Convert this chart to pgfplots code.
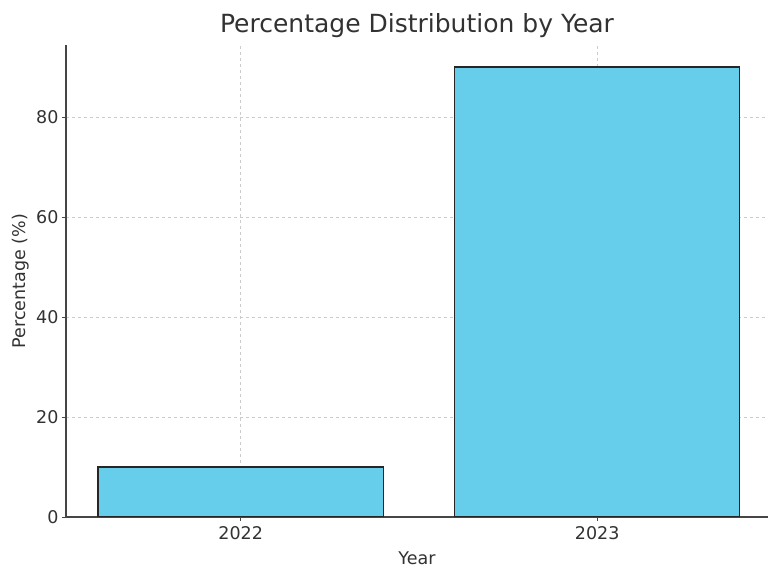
\documentclass[border=0pt]{standalone}
\usepackage{pgfplots}
\pgfplotsset{compat=1.18}
\usepackage{fontspec}
\setmainfont{DejaVu Sans}
\definecolor{barc}{RGB}{102,205,234}
\definecolor{spine}{RGB}{70,70,70}
\definecolor{txt}{RGB}{50,50,50}
\begin{document}
\begin{tikzpicture}[x=1pt,y=1pt]
\begin{axis}[
  at={(0,0)}, anchor=south west,
  scale only axis, width=702pt, height=472pt,
  xmin=-0.49, xmax=1.479, ymin=0, ymax=94.4,
  axis x line=bottom, axis y line=left,
  axis line style={-, spine, line width=1.1pt},
  xtick={0,1}, xticklabels={2022,2023},
  ytick={0,20,40,60,80},
  tick style={spine, line width=0.8pt},
  tick align=outside, major tick length=4pt,
  grid=major,
  grid style={dashed, gray!40, line width=0.5pt},
  ticklabel style={font=\fontsize{17.5}{20}\selectfont, text=txt},
  xticklabel style={yshift=-2pt},
  /pgf/number format/assume math mode=true,
  xlabel={Year}, ylabel={Percentage (\%)},
  label style={font=\fontsize{17.5}{20}\selectfont, text=txt},
  xlabel style={yshift=-5pt},
  title={Percentage Distribution by Year},
  title style={font=\fontsize{25}{30}\selectfont, text=txt, yshift=-2pt},
]
\addplot[ybar, bar width=0.8, bar shift=0pt, fill=barc, draw=black!85, line width=1.2pt]
  coordinates {(0,10) (1,90)};
\end{axis}
\pgfresetboundingbox
\useasboundingbox (-66,-52) rectangle (702,517);
\end{tikzpicture}
\end{document}
